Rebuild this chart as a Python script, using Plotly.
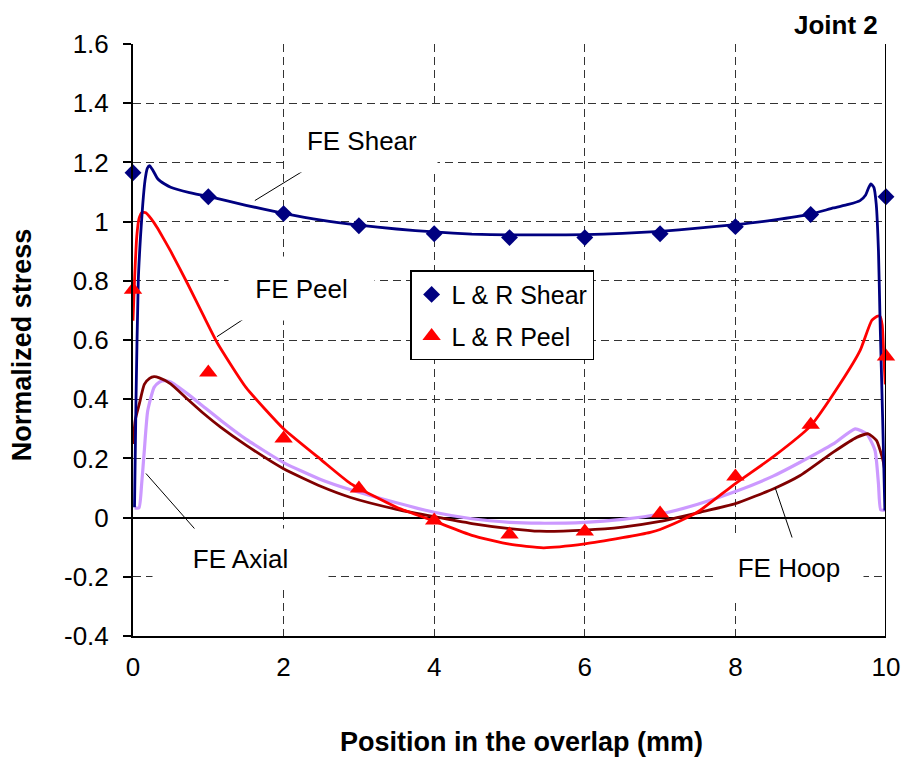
import plotly.graph_objects as go

# ---------------- data ----------------
pos_pts = [0, 1, 2, 3, 4, 5, 6, 7, 8, 9, 10]
lr_shear = [1.165, 1.084, 1.027, 0.986, 0.959, 0.946, 0.946, 0.959, 0.983, 1.024, 1.084]
lr_peel = [0.77, 0.49, 0.267, 0.098, -0.01, -0.057, -0.047, 0.014, 0.139, 0.314, 0.544]

fe_shear_x = [0.02, 0.04, 0.07, 0.10, 0.13, 0.16, 0.19, 0.22, 0.26, 0.33, 0.42, 0.5, 0.75, 1.0, 1.5,
              2.0, 2.5, 3.0, 3.5, 4.0, 4.5, 5.0, 5.5, 6.0, 6.5, 7.0, 7.5, 8.0, 8.5, 9.0, 9.3, 9.5,
              9.655, 9.73, 9.77, 9.8, 9.84, 9.87, 9.9, 9.92, 9.955, 9.985]
fe_shear_y = [0.035, 0.4, 0.8, 0.95, 1.06, 1.14, 1.18, 1.189, 1.175, 1.144, 1.127, 1.116, 1.098, 1.085, 1.055,
              1.028, 1.005, 0.988, 0.975, 0.965, 0.958, 0.955, 0.955, 0.956, 0.96, 0.967, 0.978, 0.99, 1.005, 1.025, 1.046, 1.058,
              1.071, 1.09, 1.115, 1.127, 1.115, 1.06, 0.9, 0.677, 0.339, 0.024]

fe_peel_x = [0.0, 0.02, 0.05, 0.08, 0.12, 0.17, 0.24, 0.32, 0.4, 0.5, 0.725, 0.946, 1.12, 1.5, 2.0, 2.5, 2.89,
             3.5, 4.0, 4.5, 5.0, 5.45, 6.0, 6.5, 6.87, 7.0, 7.36, 7.53, 8.0, 8.5, 9.0, 9.39, 9.655,
             9.81, 9.88, 9.92, 9.95, 9.97, 9.99]
fe_peel_y = [0.665, 0.8, 0.95, 1.01, 1.031, 1.03, 1.01, 0.98, 0.945, 0.9, 0.79, 0.677, 0.59, 0.44, 0.30, 0.195, 0.115,
             0.035, -0.012, -0.06, -0.09, -0.102, -0.089, -0.068, -0.05, -0.04, 0.0, 0.024, 0.115, 0.205, 0.31, 0.452, 0.564,
             0.666, 0.68, 0.68, 0.65, 0.55, 0.45]

fe_axial_x = [0.0, 0.03, 0.084, 0.15, 0.22, 0.28, 0.35, 0.5, 0.725, 0.946, 1.167, 1.5, 2.0, 2.5, 2.89, 3.5,
              4.0, 4.5, 5.0, 5.4, 6.0, 6.5, 7.0, 7.53, 8.0, 8.53, 8.86, 9.3, 9.61, 9.765, 9.875, 9.96, 10.0]
fe_axial_y = [0.249, 0.33, 0.384, 0.45, 0.47, 0.476, 0.472, 0.452, 0.40, 0.35, 0.305, 0.245, 0.165, 0.105, 0.068, 0.028,
              0.003, -0.02, -0.037, -0.046, -0.042, -0.032, -0.013, 0.018, 0.047, 0.10, 0.142, 0.221, 0.271, 0.283, 0.26, 0.193, 0.131]

fe_hoop_x = [0.02, 0.08, 0.115, 0.15, 0.195, 0.28, 0.35, 0.415, 0.5, 0.725, 0.946, 1.167, 1.5, 2.0, 2.5, 2.89,
             3.5, 4.0, 4.5, 5.0, 5.4, 6.0, 6.5, 7.0, 7.5, 8.0, 8.5, 8.86, 9.3, 9.59, 9.745, 9.855, 9.9, 9.93, 10.0]
fe_hoop_y = [0.033, 0.033, 0.114, 0.226, 0.36, 0.44, 0.458, 0.463, 0.458, 0.418, 0.373, 0.328, 0.265, 0.186, 0.128, 0.094,
             0.05, 0.018, -0.004, -0.016, -0.019, -0.016, -0.006, 0.012, 0.045, 0.088, 0.14, 0.187, 0.249, 0.30, 0.283, 0.226, 0.114, 0.026, 0.026]

x_tickvals = [0, 2, 4, 6, 8, 10]
x_ticktext = ["0", "2", "4", "6", "8", "10"]
y_tickvals = [-0.4, -0.2, 0, 0.2, 0.4, 0.6, 0.8, 1, 1.2, 1.4, 1.6]
y_ticktext = ["-0.4", "-0.2", "0", "0.2", "0.4", "0.6", "0.8", "1", "1.2", "1.4", "1.6"]

FONT = "Arial, 'Liberation Sans', sans-serif"

fig = go.Figure()

line_kw = dict(shape="spline", smoothing=0.5)
fig.add_trace(go.Scatter(x=fe_hoop_x, y=fe_hoop_y, mode="lines", name="FE Hoop",
                         line=dict(color="#CC99FF", width=3.2, **line_kw), showlegend=False))
fig.add_trace(go.Scatter(x=fe_axial_x, y=fe_axial_y, mode="lines", name="FE Axial",
                         line=dict(color="#800000", width=2.8, **line_kw), showlegend=False))
fig.add_trace(go.Scatter(x=fe_peel_x, y=fe_peel_y, mode="lines", name="FE Peel",
                         line=dict(color="#FF0000", width=2.8, **line_kw), showlegend=False))
fig.add_trace(go.Scatter(x=fe_shear_x, y=fe_shear_y, mode="lines", name="FE Shear",
                         line=dict(color="#000080", width=2.8, **line_kw), showlegend=False))

fig.add_trace(go.Scatter(x=pos_pts, y=lr_shear, mode="markers", name="L & R Shear",
                         marker=dict(symbol="diamond", size=13, color="#000080"),
                         cliponaxis=False, legendgroup="a"))
fig.add_trace(go.Scatter(x=pos_pts, y=lr_peel, mode="markers", name="L & R Peel",
                         marker=dict(symbol="triangle-up", size=16, color="#FF0000"),
                         cliponaxis=False, legendgroup="b"))

grid_col = "#333333"
fig.update_xaxes(range=[0, 10], tickmode="array", tickvals=x_tickvals, ticktext=x_ticktext,
                 showline=True, linecolor="black", linewidth=2, ticks="",
                 showgrid=True, gridcolor=grid_col, gridwidth=1.3, griddash="8px,5px",
                 zeroline=False, ticklabelstandoff=7, automargin=False,
                 tickfont=dict(family=FONT, size=26, color="black"))
fig.update_yaxes(range=[-0.4, 1.6], tickmode="array", tickvals=y_tickvals, ticktext=y_ticktext,
                 showline=True, linecolor="black", linewidth=2, ticks="outside", ticklen=8,
                 tickcolor="black", tickwidth=1.5,
                 showgrid=True, gridcolor=grid_col, gridwidth=1.3, griddash="8px,5px",
                 zeroline=True, zerolinecolor="black", zerolinewidth=2, ticklabelstandoff=9,
                 automargin=False,
                 tickfont=dict(family=FONT, size=26, color="black"))

shapes = [
    dict(type="line", xref="x", yref="y", x0=10, x1=10, y0=-0.4, y1=1.6,
         line=dict(color="black", width=2), layer="above"),
    dict(type="line", xref="x", yref="y", x0=2.285, y0=1.175, x1=1.618, y1=1.071,
         line=dict(color="black", width=1)),
    dict(type="line", xref="x", yref="y", x0=1.684, y0=0.707, x1=1.114, y1=0.611,
         line=dict(color="black", width=1)),
    dict(type="line", xref="x", yref="y", x0=0.172, y0=0.149, x1=0.875, y1=-0.054,
         line=dict(color="black", width=1)),
    dict(type="line", xref="x", yref="y", x0=8.528, y0=0.101, x1=8.767, y1=-0.078,
         line=dict(color="black", width=1)),
]

lab_font = dict(family=FONT, size=26, color="black")
annotations = [
    dict(text="FE Shear", x=3.037, y=1.274, xref="x", yref="y", showarrow=False,
         width=150, height=63, bgcolor="white", font=lab_font, borderpad=0),
    dict(text="FE Peel", x=2.235, y=0.775, xref="x", yref="y", showarrow=False,
         width=145, height=63, bgcolor="white", font=lab_font, borderpad=0),
    dict(text="FE Axial", x=1.426, y=-0.139, xref="x", yref="y", showarrow=False,
         width=175, height=60, bgcolor="white", font=lab_font, borderpad=0),
    dict(text="FE Hoop", x=8.714, y=-0.169, xref="x", yref="y", showarrow=False,
         width=148, height=60, bgcolor="white", font=lab_font, borderpad=0),
    dict(text="<b>Joint 2</b>", x=0.992, y=1.032, xref="paper", yref="paper", showarrow=False,
         xanchor="right", yanchor="middle", font=dict(family=FONT, size=26, color="black")),
    dict(text="<b>Normalized stress</b>", x=-0.147, y=0.4916, xref="paper", yref="paper",
         showarrow=False, textangle=-90, xanchor="center", yanchor="middle",
         font=dict(family=FONT, size=27, color="black")),
    dict(text="<b>Position in the overlap (mm)</b>", x=0.516, y=-0.179, xref="paper", yref="paper",
         showarrow=False, xanchor="center", yanchor="middle",
         font=dict(family=FONT, size=27, color="black")),
]

fig.update_layout(
    width=906, height=758,
    margin=dict(l=133, r=20, t=44, b=122, autoexpand=False),
    paper_bgcolor="white", plot_bgcolor="white",
    font=dict(family=FONT, color="black"),
    shapes=shapes, annotations=annotations,
    legend=dict(x=0.368, y=0.618, xanchor="left", yanchor="top",
                bgcolor="white", bordercolor="black", borderwidth=1.5,
                font=dict(family=FONT, size=25, color="black"),
                tracegroupgap=6, traceorder="grouped"),
)

fig.write_html("out.html", config={"displayModeBar": False},
               post_script="document.body.style.margin='0px';document.body.style.overflow='hidden';")
